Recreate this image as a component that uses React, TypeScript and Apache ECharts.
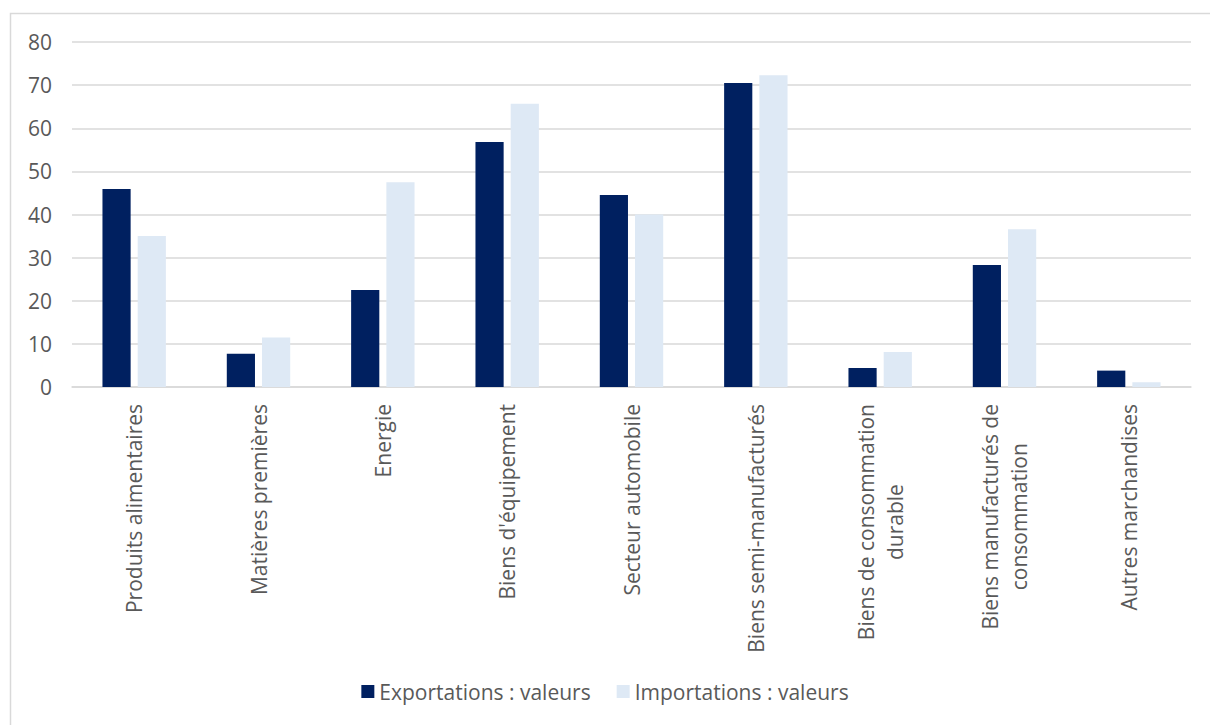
import React, { useEffect, useRef } from "react";
import * as echarts from "echarts";

const categories = [
  "Produits alimentaires",
  "Matières premières",
  "Energie",
  "Biens d'équipement",
  "Secteur automobile",
  "Biens semi-manufacturés",
  "Biens de consommation\ndurable",
  "Biens manufacturés de\nconsommation",
  "Autres marchandises",
];
const exportations = [45.9, 7.7, 22.5, 56.8, 44.5, 70.5, 4.4, 28.3, 3.8];
const importations = [35.0, 11.5, 47.5, 65.7, 40.0, 72.3, 8.1, 36.6, 1.1];
const seriesNames = ["Exportations : valeurs", "Importations : valeurs"];

const FONT = "'Open Sans', 'Noto Sans', sans-serif";
const TEXT = "#595959";
const FS = 21;

export default function App() {
  const ref = useRef<HTMLDivElement>(null);
  useEffect(() => {
    if (!ref.current) return;
    const chart = echarts.init(ref.current, undefined, { renderer: "svg" });
    chart.setOption({
      animation: false,
      backgroundColor: "#ffffff",
      textStyle: { fontFamily: FONT },
      graphic: [
        {
          type: "rect",
          shape: { x: 10.5, y: 13.5, width: 1230, height: 740 },
          style: { fill: "none", stroke: "#D9D9D9", lineWidth: 1.5 },
          silent: true,
        },
      ],
      grid: { left: 72, right: 19, top: 42, bottom: 338, containLabel: false },
      legend: {
        bottom: 18,
        left: "center",
        itemWidth: 13,
        itemHeight: 13,
        itemGap: 26,
        icon: "rect",
        textStyle: { color: TEXT, fontSize: FS, fontFamily: FONT },
        data: seriesNames,
      },
      xAxis: {
        type: "category",
        data: categories,
        axisLine: { show: true, lineStyle: { color: "#D9D9D9", width: 1.5 } },
        axisTick: { show: false },
        axisLabel: {
          rotate: 90,
          interval: 0,
          margin: 17,
          color: TEXT,
          fontSize: FS,
          fontFamily: FONT,
          formatter: (v: string) =>
            v
              .split("\n")
              .map((l) => "{c|" + l + "}")
              .join("\n"),
          rich: {
            c: {
              align: "center",
              color: TEXT,
              fontSize: FS,
              fontFamily: FONT,
              lineHeight: 29,
            },
          },
        },
      },
      yAxis: {
        type: "value",
        min: 0,
        max: 80,
        interval: 10,
        axisLine: { show: false },
        axisTick: { show: false },
        axisLabel: { color: TEXT, fontSize: FS, fontFamily: FONT, margin: 20 },
        splitLine: { lineStyle: { color: "#D9D9D9", width: 1.5 } },
      },
      series: [
        {
          name: seriesNames[0],
          type: "bar",
          data: exportations,
          itemStyle: { color: "#002060" },
          barGap: "25%",
          barCategoryGap: "49%",
        },
        {
          name: seriesNames[1],
          type: "bar",
          data: importations,
          itemStyle: { color: "#DEE9F5" },
        },
      ],
    });
    return () => chart.dispose();
  }, []);
  return (
    <div
      ref={ref}
      style={{ position: "absolute", left: 0, top: 0, width: 1210, height: 725 }}
    />
  );
}
